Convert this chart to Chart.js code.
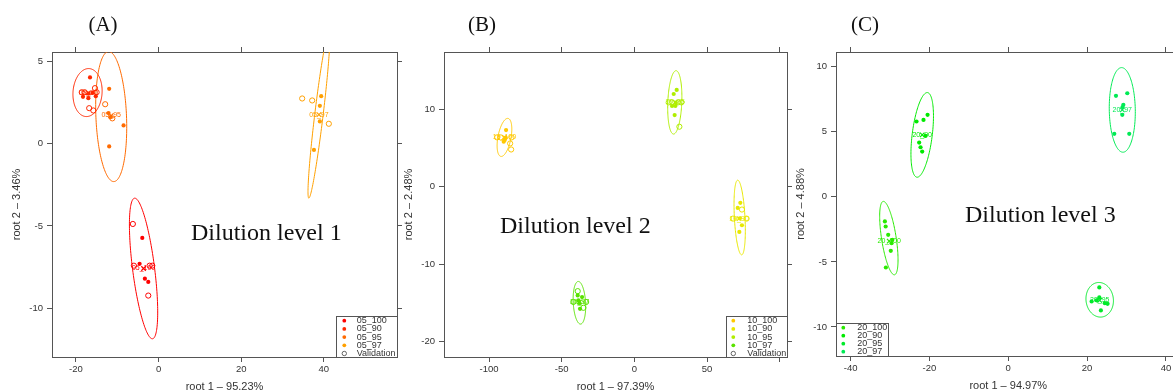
<!DOCTYPE html>
<html><head><meta charset="utf-8">
<script src="https://cdn.jsdelivr.net/npm/chart.js@4.4.1/dist/chart.umd.min.js"></script>
<style>
html,body{margin:0;padding:0;background:#fff;overflow:hidden;width:1173px;height:392px;position:relative;}
canvas{position:absolute;top:0;}
</style></head><body>
<canvas id="cA" width="405" height="392" style="left:0px"></canvas>
<canvas id="cB" width="395" height="392" style="left:400px"></canvas>
<canvas id="cC" width="400" height="392" style="left:790px"></canvas>
<script>
// ---------------- Panel A : Dilution level 1 ----------------
const groupsA = ['05_100','05_90','05_95','05_97'];
const colorsA = ['#ff0000','#ff2800','#ff6a00','#ffa000'];
const A_05_100 = [[-3.95,-5.73],[-4.6,-7.31],[-3.32,-8.21],[-2.5,-8.41]];
const A_05_90  = [[-16.6,4.04],[-18.3,2.86],[-17.0,2.78],[-15.2,2.90],[-17.0,3.05],[-16.0,3.1]];
const A_05_95  = [[-11.96,3.35],[-12.12,1.87],[-11.7,1.62],[-8.48,1.12],[-11.96,-0.16]];
const A_05_97  = [[39.35,2.90],[39.03,2.31],[39.03,1.36],[37.6,-0.37]];
const A_05_100_val = [[-6.23,-4.88],[-5.98,-7.42],[-2.18,-7.42],[-1.53,-7.42],[-2.5,-9.24]];
const A_05_90_val  = [[-18.6,3.14],[-15.4,3.39],[-16.8,2.17],[-15.8,2.03],[-17.9,3.14],[-15.0,3.14]];
const A_05_95_val  = [[-12.93,2.41],[-11.2,1.55]];
const A_05_97_val  = [[34.75,2.76],[37.17,2.64],[41.2,1.22]];
const centroidsA = [[-3.64,-7.59],[-17.0,3.1],[-11.47,1.72],[38.8,1.78]];
// confidence ellipses: [centre, end of major axis, end of minor axis]
const ellipsesA = [
  [[-3.64,-7.59],[-5.82,-3.31],[-1.0,-7.505]],
  [[-17.2,3.12],[-16.8,4.58],[-13.69,3.06]],
  [[-11.47,1.66],[-12.12,5.62],[-7.77,1.70]],
  [[38.8,1.76],[36.36,-3.31],[39.81,1.73]]
];
const xTicksA = [-20,0,20,40];
const yTicksA = [-10,-5,0,5];
const xTickLabelsA = ['-20','0','20','40'];
const yTickLabelsA = ['-10','-5','0','5'];
const xLimA = [-25.8,57.7];
const yLimA = [-12.98,5.59];

// ---------------- Panel B : Dilution level 2 ----------------
const groupsB = ['10_100','10_90','10_95','10_97'];
const colorsB = ['#ffc800','#e8e800','#b0ee00','#5ae200'];
const B_10_100 = [[-88.3,7.28],[-89.9,5.78],[-88.5,6.3],[-89.2,6.0]];
const B_10_90  = [[72.9,-2.11],[71.1,-2.76],[74.0,-5.0],[72.2,-5.86],[72.5,-4.1]];
const B_10_95  = [[29.1,12.46],[27.05,11.94],[25.9,10.39],[28.2,10.39],[27.7,9.22],[28.5,10.8]];
const B_10_97  = [[-39.0,-14.05],[-36.0,-14.27],[-37.8,-15.05],[-37.4,-15.78],[-38.5,-14.7]];
const B_10_100_val = [[-94.5,6.34],[-92.0,6.34],[-84.5,6.34],[-85.5,5.56],[-84.8,4.78]];
const B_10_90_val  = [[74.0,-2.97],[67.8,-4.14],[77.2,-4.14]];
const B_10_95_val  = [[23.6,10.86],[26.0,10.86],[30.0,10.86],[32.3,10.86],[30.95,7.72]];
const B_10_97_val  = [[-39.0,-13.5],[-42.0,-14.9],[-33.2,-14.9],[-35.1,-15.65]];
const centroidsB = [[-89.4,6.34],[72.0,-4.14],[28.0,10.86],[-37.8,-14.9]];
const ellipsesB = [
  [[-89.4,6.34],[-86.9,8.79],[-85.0,6.18]],
  [[72.44,-4.0],[71.06,0.82],[76.08,-3.96]],
  [[27.8,10.86],[28.7,14.95],[32.6,10.82]],
  [[-37.83,-15.0],[-38.52,-12.25],[-33.57,-15.04]]
];
const xTicksB = [-100,-50,0,50,100];
const yTicksB = [-20,-10,0,10];
const xTickLabelsB = ['-100','-50','0','50',''];
const yTickLabelsB = ['-20','-10','0','10'];
const xLimB = [-131,105];
const yLimB = [-22.0,17.36];

// ---------------- Panel C : Dilution level 3 ----------------
const groupsC = ['20_100','20_90','20_95','20_97'];
const colorsC = ['#2aea00','#00ea00','#00ea2a','#00ea55'];
const C_20_100 = [[-31.3,-1.89],[-31.1,-2.28],[-30.46,-2.92],[-29.6,-3.56],[-29.8,-4.15],[-31.05,-5.43],[-29.4,-3.3]];
const C_20_90  = [[-23.27,5.79],[-21.5,5.91],[-20.47,6.3],[-22.6,4.17],[-22.25,3.81],[-21.83,3.48],[-21.0,4.68]];
const C_20_95  = [[23.1,-6.96],[21.15,-8.04],[23.1,-7.73],[24.5,-8.17],[25.2,-8.22],[23.5,-8.73],[22.4,-7.95]];
const C_20_97  = [[27.33,7.76],[30.2,7.96],[29.2,7.07],[28.93,6.3],[26.9,4.84],[30.7,4.84],[29.0,6.9]];
const centroidsC = [[-30.2,-3.4],[-21.83,4.76],[23.2,-7.95],[28.93,6.68]];
const ellipsesC = [
  [[-30.29,-3.17],[-31.73,-0.35],[-28.46,-3.08]],
  [[-21.83,4.76],[-20.48,8.01],[-19.31,4.66]],
  [[23.2,-7.91],[23.0,-6.58],[26.68,-7.91]],
  [[28.93,6.68],[28.76,9.93],[32.23,6.68]]
];
const xTicksC = [-40,-20,0,20,40];
const yTicksC = [-10,-5,0,5,10];
const xTickLabelsC = ['-40','-20','0','20','40'];
const yTickLabelsC = ['-10','-5','0','5','10'];
const xLimC = [-43.7,43.7];
const yLimC = [-12.23,11.13];

// ---------------- rendering ----------------
const SANS = "'Liberation Sans', Arial, Helvetica, sans-serif";
const SERIF = "'Liberation Serif', 'DejaVu Serif', serif";
const AXIS = '#555';
const toXY = p => ({x:p[0], y:p[1]});

function axis(pos, lim, ticks, labels, size) {
  const horiz = (pos === 'top' || pos === 'bottom');
  return {
    type:'linear', position:pos, min:lim[0], max:lim[1],
    afterBuildTicks: s => { s.ticks = ticks.map(v => ({value:v})); },
    afterFit: s => { if (horiz) s.height = size; else s.width = size; },
    ticks: {
      display: !!labels, autoSkip:false, minRotation:0, maxRotation:0,
      callback: (v, i) => labels ? labels[i] : '',
      font:{family:SANS, size:9.5}, color:'#333', padding: horiz ? 2 : 4
    },
    grid: { drawOnChartArea:false, drawTicks:true, tickLength:5, tickColor:AXIS, color:AXIS, lineWidth:1 },
    border: { display:true, color:AXIS, width:1 },
    title: { display:false }
  };
}

function makePanel(P) {
  const datasets = [];
  P.groups.forEach((g, i) => {
    datasets.push({label:g, data:P.filled[i].map(toXY), backgroundColor:P.colors[i], borderColor:P.colors[i],
      pointRadius:2.1, pointBorderWidth:0, pointStyle:'circle'});
    if (P.val && P.val[i] && P.val[i].length)
      datasets.push({label:g + ' validation', data:P.val[i].map(toXY), backgroundColor:'rgba(0,0,0,0)',
        borderColor:P.colors[i], pointRadius:2.6, pointBorderWidth:1, pointStyle:'circle'});
    datasets.push({label:g + ' centroid', data:[toXY(P.centroids[i])], backgroundColor:P.colors[i],
      borderColor:P.colors[i], pointStyle:'crossRot', pointRadius:3.2, pointBorderWidth:1.2});
  });

  const deco = {
    id:'deco_' + P.canvas,
    beforeDatasetsDraw(chart) {
      const {ctx, chartArea:ca} = chart; const sx = chart.scales.x, sy = chart.scales.y;
      ctx.save();
      ctx.beginPath(); ctx.rect(ca.left, ca.top, ca.width, ca.height); ctx.clip();
      P.ellipses.forEach((e, i) => {
        const cx = sx.getPixelForValue(e[0][0]), cy = sy.getPixelForValue(e[0][1]);
        const ux = sx.getPixelForValue(e[1][0]) - cx, uy = sy.getPixelForValue(e[1][1]) - cy;
        const vx = sx.getPixelForValue(e[2][0]) - cx, vy = sy.getPixelForValue(e[2][1]) - cy;
        ctx.beginPath();
        for (let k = 0; k <= 160; k++) {
          const t = k / 160 * Math.PI * 2;
          const px = cx + ux * Math.cos(t) + vx * Math.sin(t);
          const py = cy + uy * Math.cos(t) + vy * Math.sin(t);
          if (k) ctx.lineTo(px, py); else ctx.moveTo(px, py);
        }
        ctx.closePath();
        ctx.strokeStyle = P.colors[i]; ctx.lineWidth = 1; ctx.stroke();
      });
      ctx.restore();
    },
    afterDatasetsDraw(chart) {
      const {ctx} = chart; const sx = chart.scales.x, sy = chart.scales.y;
      ctx.save();
      ctx.font = '7px ' + SANS; ctx.textAlign = 'center'; ctx.textBaseline = 'middle';
      P.groups.forEach((g, i) => {
        ctx.fillStyle = P.colors[i];
        ctx.fillText(g, sx.getPixelForValue(P.centroids[i][0]), sy.getPixelForValue(P.centroids[i][1]));
      });
      ctx.restore();
    },
    afterDraw(chart) {
      const {ctx, chartArea:ca} = chart;
      ctx.save();
      ctx.fillStyle = '#333'; ctx.font = '11px ' + SANS; ctx.textAlign = 'center'; ctx.textBaseline = 'middle';
      ctx.fillText(P.xTitle, (ca.left + ca.right) / 2, ca.bottom + 30);
      ctx.save(); ctx.translate(ca.left - 35, (ca.top + ca.bottom) / 2); ctx.rotate(-Math.PI / 2);
      ctx.fillText(P.yTitle, 0, 0); ctx.restore();
      ctx.fillStyle = '#111'; ctx.font = '21px ' + SERIF; ctx.textAlign = 'center';
      ctx.fillText(P.panelLabel, P.panelLabelX, 25);
      ctx.font = P.noteSize + 'px ' + SERIF; ctx.textAlign = 'left';
      ctx.fillText(P.note, P.noteX, P.noteY);
      const L = P.legend;
      ctx.fillStyle = '#fff'; ctx.fillRect(L.x, L.y, L.w, L.h);
      ctx.strokeStyle = AXIS; ctx.lineWidth = 1;
      ctx.strokeRect(Math.round(L.x) + 0.5, Math.round(L.y) + 0.5, L.w, L.h);
      ctx.save(); ctx.beginPath(); ctx.rect(L.x, L.y, L.w + 1, L.h + 1); ctx.clip();
      ctx.font = '9px ' + SANS; ctx.textAlign = 'left'; ctx.textBaseline = 'middle';
      const items = P.groups.map((g, i) => ({t:g, c:P.colors[i], open:false}));
      if (P.val) items.push({t:'Validation', c:'#555', open:true});
      items.forEach((it, k) => {
        const yy = L.y + L.row0 + k * L.step;
        ctx.beginPath(); ctx.arc(L.x + L.sym, yy, it.open ? 2.2 : 1.9, 0, Math.PI * 2);
        if (it.open) { ctx.strokeStyle = it.c; ctx.lineWidth = 0.9; ctx.stroke(); }
        else { ctx.fillStyle = it.c; ctx.fill(); }
        ctx.fillStyle = '#333'; ctx.fillText(it.t, L.x + L.txt, yy);
      });
      ctx.restore();
      ctx.restore();
    }
  };

  return new Chart(document.getElementById(P.canvas), {
    type:'scatter',
    data:{datasets},
    options:{
      responsive:false, animation:false, devicePixelRatio:1, events:[],
      layout:{padding:0},
      plugins:{legend:{display:false}, tooltip:{enabled:false}},
      scales:{
        x:  axis('bottom', P.xLim, P.xTicks, P.xTickLabels, P.box.bottom),
        x2: axis('top',    P.xLim, P.xTicks, null, P.box.top),
        y:  axis('left',   P.yLim, P.yTicks, P.yTickLabels, P.box.left),
        y2: axis('right',  P.yLim, P.yTicks, null, P.box.right)
      }
    },
    plugins:[deco]
  });
}

makePanel({
  canvas:'cA', groups:groupsA, colors:colorsA,
  filled:[A_05_100, A_05_90, A_05_95, A_05_97],
  val:[A_05_100_val, A_05_90_val, A_05_95_val, A_05_97_val],
  centroids:centroidsA, ellipses:ellipsesA,
  xLim:xLimA, yLim:yLimA, xTicks:xTicksA, yTicks:yTicksA, xTickLabels:xTickLabelsA, yTickLabels:yTickLabelsA,
  box:{left:52, right:8, top:52, bottom:35},
  xTitle:'root 1 \u2013 95.23%', yTitle:'root 2 \u2013 3.46%',
  panelLabel:'(A)', panelLabelX:103,
  note:'Dilution level 1', noteX:191, noteY:234, noteSize:24,
  legend:{x:336, y:316, w:61, h:41, row0:4.7, step:8.2, sym:8.3, txt:20.7}
});
makePanel({
  canvas:'cB', groups:groupsB, colors:colorsB,
  filled:[B_10_100, B_10_90, B_10_95, B_10_97],
  val:[B_10_100_val, B_10_90_val, B_10_95_val, B_10_97_val],
  centroids:centroidsB, ellipses:ellipsesB,
  xLim:xLimB, yLim:yLimB, xTicks:xTicksB, yTicks:yTicksB, xTickLabels:xTickLabelsB, yTickLabels:yTickLabelsB,
  box:{left:44, right:8, top:52, bottom:35},
  xTitle:'root 1 \u2013 97.39%', yTitle:'root 2 \u2013 2.48%',
  panelLabel:'(B)', panelLabelX:82,
  note:'Dilution level 2', noteX:100, noteY:227, noteSize:24,
  legend:{x:326, y:316, w:61, h:41, row0:4.7, step:8.2, sym:7.3, txt:21.3}
});
makePanel({
  canvas:'cC', groups:groupsC, colors:colorsC,
  filled:[C_20_100, C_20_90, C_20_95, C_20_97],
  val:null,
  centroids:centroidsC, ellipses:ellipsesC,
  xLim:xLimC, yLim:yLimC, xTicks:xTicksC, yTicks:yTicksC, xTickLabels:xTickLabelsC, yTickLabels:yTickLabelsC,
  box:{left:46, right:9.5, top:52, bottom:36},
  xTitle:'root 1 \u2013 94.97%', yTitle:'root 2 \u2013 4.88%',
  panelLabel:'(C)', panelLabelX:75,
  note:'Dilution level 3', noteX:175, noteY:216, noteSize:24,
  legend:{x:46, y:323, w:52, h:33, row0:4.7, step:8, sym:7.3, txt:21.3}
});
</script>
</body></html>
